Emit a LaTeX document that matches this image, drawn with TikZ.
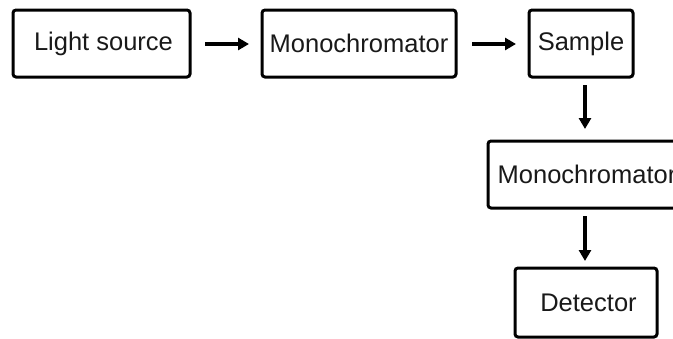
\documentclass[tikz,border=0pt]{standalone}
\usepackage{fontspec}
\setmainfont{Liberation Sans}
\usetikzlibrary{arrows.meta}
\begin{document}
\begin{tikzpicture}[x=1pt,y=-1pt,
  blockbox/.style={draw=black,line width=3pt,rounded corners=3pt,inner sep=0pt,
    font=\fontsize{25.5}{30}\selectfont,text=black!90},
  flow/.style={line width=3.2pt,-{Triangle[length=11pt,width=12pt]}}]
\useasboundingbox (0,0) rectangle (673,338);
\node[blockbox,minimum width=177pt,minimum height=67pt] (ls) at (101.5,43.5) {\hspace*{4pt}Light source};
\node[blockbox,minimum width=194pt,minimum height=67pt] (m1) at (359,43.5) {Monochromator};
\node[blockbox,minimum width=104pt,minimum height=67pt] (sa) at (581,43.5) {Sample};
\node[blockbox,minimum width=196pt,minimum height=67pt] (m2) at (586,174.5) {\hspace*{2pt}Monochromator};
\node[blockbox,minimum width=142pt,minimum height=69pt] (de) at (586,302.5) {\hspace*{5pt}Detector};
\coordinate (a1s) at (205,44); \coordinate (a1e) at (249,44);
\coordinate (a2s) at (472,44); \coordinate (a2e) at (516,44);
\coordinate (a3s) at (585,85); \coordinate (a3e) at (585,129);
\coordinate (a4s) at (585,216); \coordinate (a4e) at (585,261);
\draw[flow] (a1s) -- (a1e);
\draw[flow] (a2s) -- (a2e);
\draw[flow] (a3s) -- (a3e);
\draw[flow] (a4s) -- (a4e);
\end{tikzpicture}
\end{document}
